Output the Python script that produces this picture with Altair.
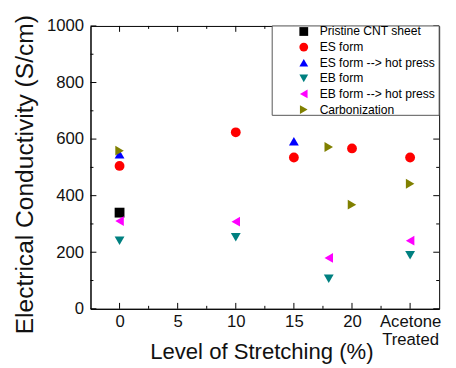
import altair as alt
import pandas as pd

series = ["Pristine CNT sheet", "ES form", "ES form --> hot press",
          "EB form", "EB form --> hot press", "Carbonization"]
colors = ["#000000", "#FF0000", "#0000FF", "#008080", "#FF00FF", "#808000"]
shapes = ["square", "circle", "triangle-up", "triangle-down",
          "triangle-left", "triangle-right"]

pristine_x = [0]
pristine_y = [340]
es_x = [0, 10, 15, 20, 25]
es_y = [505, 624, 535, 567, 535]
esh_x = [0, 15]
esh_y = [546, 592]
eb_x = [0, 10, 18, 25]
eb_y = [241, 253, 106, 189]
ebh_x = [0, 10, 18, 25]
ebh_y = [310, 308, 180, 241]
carb_x = [0, 18, 20, 25]
carb_y = [559, 572, 368, 442]

x_ticks = [0, 5, 10, 15, 20, 25]
x_minor = [2.5, 7.5, 12.5, 17.5, 22.5]
y_ticks = [0, 200, 400, 600, 800, 1000]
y_minor = [100, 300, 500, 700, 900]

rows = []
for name, xs_, ys_ in zip(series,
                          [pristine_x, es_x, esh_x, eb_x, ebh_x, carb_x],
                          [pristine_y, es_y, esh_y, eb_y, ebh_y, carb_y]):
    for a, b in zip(xs_, ys_):
        rows.append({"series": name, "x": a, "y": b, "k": series.index(name)})
df = pd.DataFrame(rows)

W, H = 355, 288
FONT = "Liberation Sans"

xs = alt.Scale(domain=[-2.5, 27.5], nice=False, zero=False)
ys = alt.Scale(domain=[0, 1000], nice=False)

x_axis = alt.Axis(
    values=x_ticks, ticks=False, grid=False, labelFlush=False, format="d",
    labelExpr="datum.value == 25 ? ['Acetone', 'Treated'] : datum.label",
    labelFontSize=17, labelPadding=5, labelLineHeight=18,
    title="Level of Stretching (%)", titleFontSize=22.5, titleFontWeight="normal",
    titleX=174, titleY=51, titleBaseline="alphabetic", titleAlign="center")
y_axis = alt.Axis(
    values=y_ticks, ticks=False, grid=False, labelFlush=False, format="d",
    labelFontSize=17, labelPadding=7,
    title="Electrical Conductivity (S/cm)", titleFontSize=25, titleFontWeight="normal",
    titleX=-59, titleY=151, titleAngle=270, titleBaseline="alphabetic",
    titleAlign="center")

pts = alt.Chart(df).mark_point(filled=True, size=100, opacity=1).encode(
    x=alt.X("x:Q", scale=xs, axis=x_axis),
    y=alt.Y("y:Q", scale=ys, axis=y_axis),
    color=alt.Color("series:N", scale=alt.Scale(domain=series, range=colors),
                    legend=alt.Legend(orient="none", legendX=211, legendY=-0.5,
                                      padding=0, title=None, labelFontSize=12.3,
                                      symbolSize=80, labelOffset=10, rowPadding=2.9,
                                      labelColor="black", labelFont=FONT)),
    shape=alt.Shape("series:N", scale=alt.Scale(domain=series, range=shapes)),
    order=alt.Order("k:Q"),
)

def yt(vals, length, right=False):
    d = pd.DataFrame({"y": vals})
    if right:
        xe = dict(x=alt.value(W - length), x2=alt.value(W))
    else:
        xe = dict(x=alt.value(0), x2=alt.value(length))
    return alt.Chart(d).mark_rule(color="black", strokeWidth=1).encode(
        y=alt.Y("y:Q", scale=ys, axis=y_axis), **xe)

def xt(vals, length, top=False):
    d = pd.DataFrame({"x": vals})
    if top:
        ye = dict(y=alt.value(0), y2=alt.value(length))
    else:
        ye = dict(y=alt.value(H - length), y2=alt.value(H))
    return alt.Chart(d).mark_rule(color="black", strokeWidth=1).encode(
        x=alt.X("x:Q", scale=xs, axis=x_axis), **ye)

ticks = [yt(y_ticks, 6), yt(y_minor, 3), yt(y_ticks, 6, True), yt(y_minor, 3, True),
         xt(x_ticks, 6), xt(x_minor, 3), xt(x_ticks, 6, True), xt(x_minor, 3, True)]

legend_box = alt.Chart(pd.DataFrame({"a": [0]})).mark_rect(
    fill="white", stroke="#555555", strokeWidth=1).encode(
    x=alt.value(185), x2=alt.value(W), y=alt.value(0), y2=alt.value(91))

chart = alt.layer(pts, *ticks, legend_box).properties(
    width=W, height=H,
    padding={"left": 84, "top": 15, "right": 9, "bottom": 57},
    autosize=alt.AutoSizeParams(type="none"),
).configure(font=FONT).configure_view(
    stroke="black", strokeWidth=1
).configure_axis(
    domainColor="black", labelColor="#111111", titleColor="#111111",
    labelFont=FONT, titleFont=FONT
)

chart.save("out.html", embed_options={"renderer": "svg", "actions": False})
